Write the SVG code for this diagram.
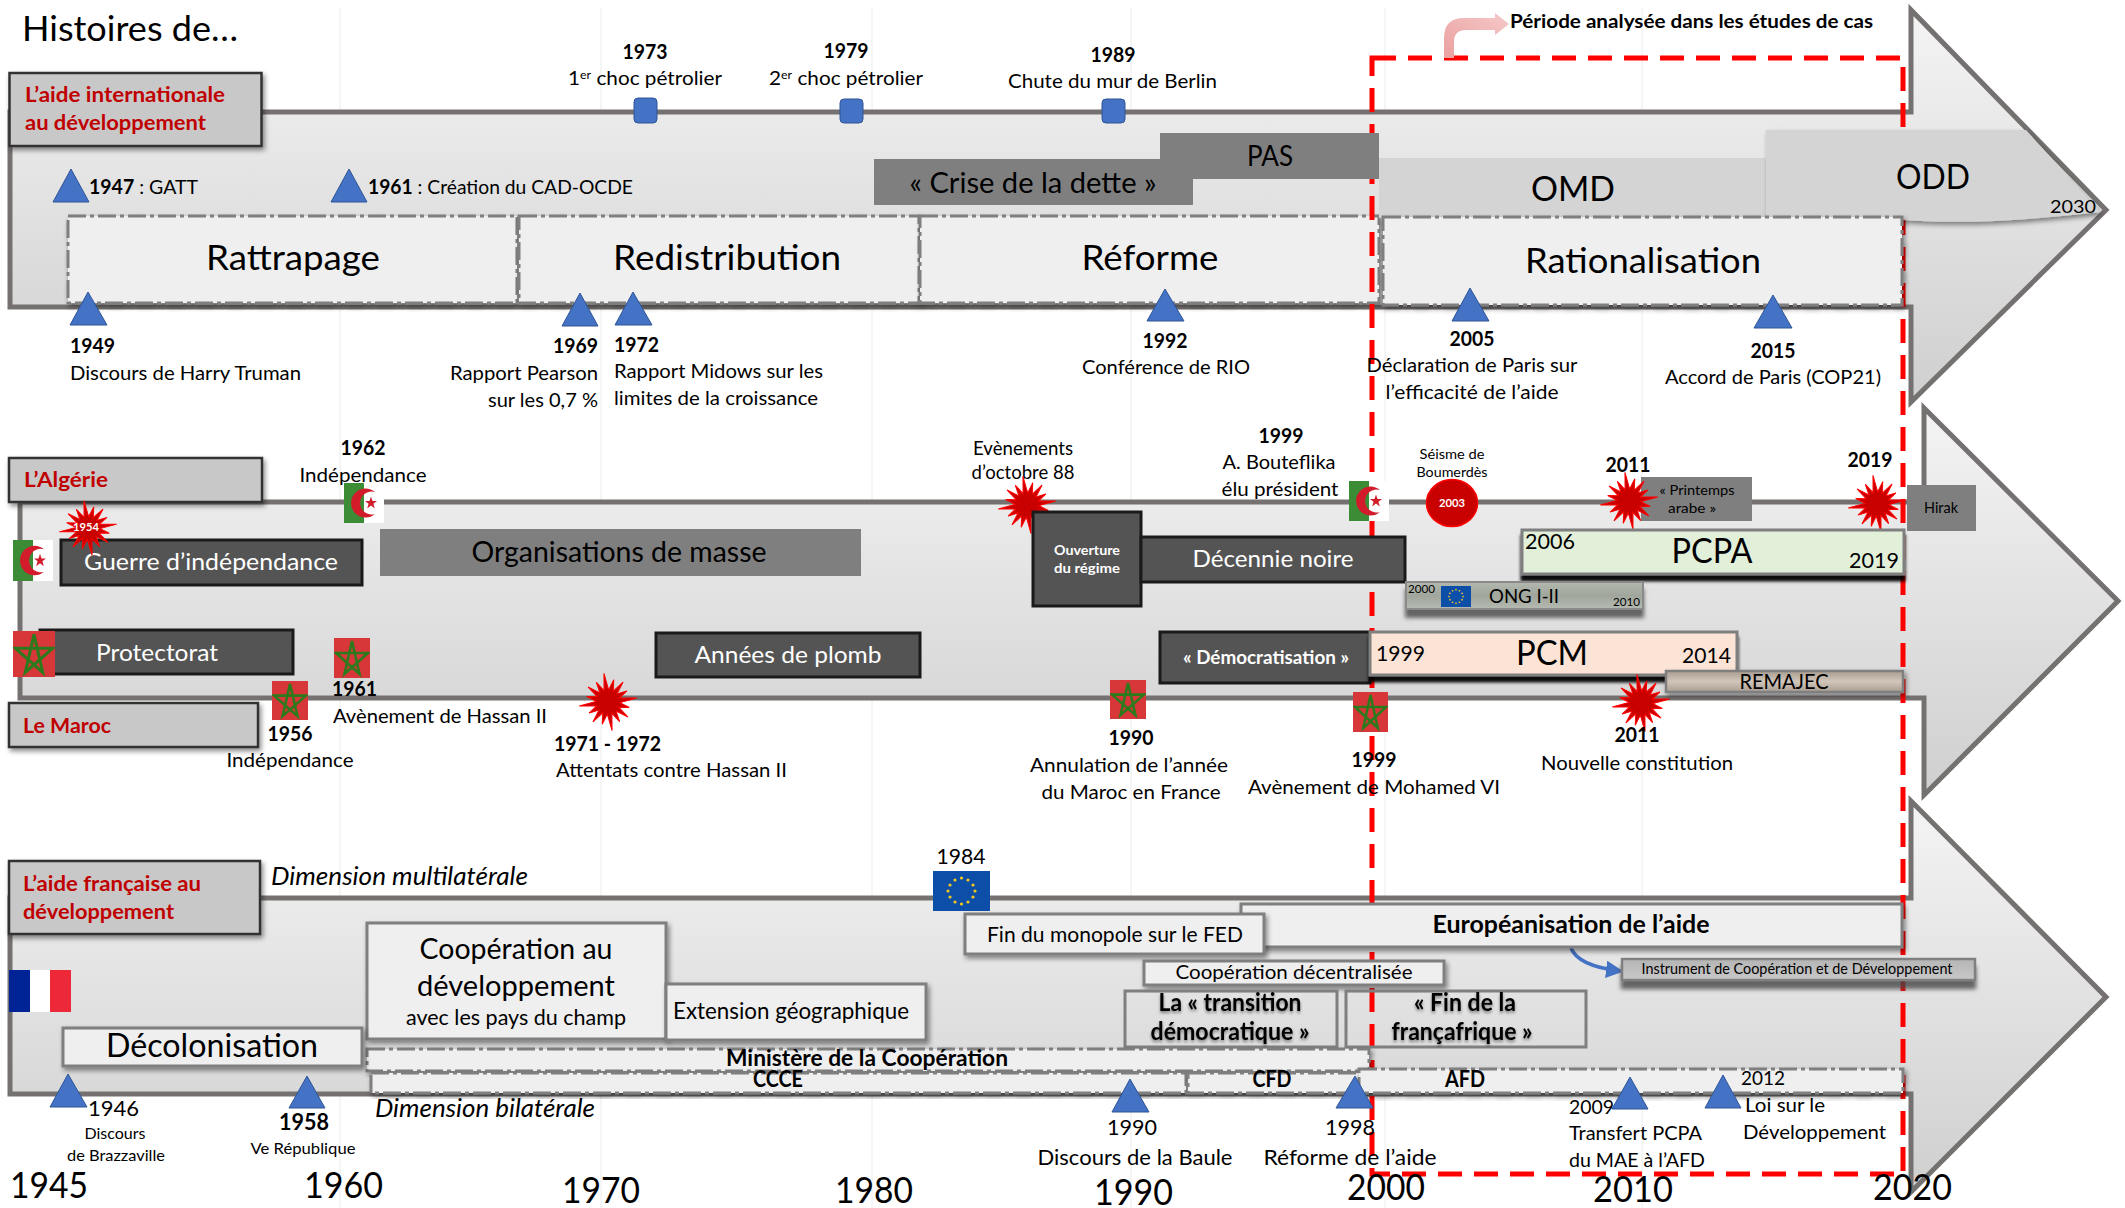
<svg xmlns="http://www.w3.org/2000/svg" width="2125" height="1208" viewBox="0 0 2125 1208">
<style>
text{font-family:Lato,"Open Sans","Liberation Sans",sans-serif;fill:#000;font-size:20px}
.m{text-anchor:middle}.e{text-anchor:end}.b{font-weight:700}.i{font-style:italic}
.w{fill:#fff}.r{fill:#c00000;font-weight:700;font-size:21px}
.arrow{stroke:#767171;stroke-width:5;stroke-linejoin:miter}
.lab{fill:#c8c8c8;stroke:#333;stroke-width:2.5;filter:url(#sh)}
.tri{fill:#4472c4;stroke:#2f5597;stroke-width:1}
.sq{fill:#4472c4;stroke:#2f5597;stroke-width:1}
.ph{fill:#efefef;stroke:#7f7f7f;stroke-width:3;stroke-dasharray:18 4 4 4;filter:url(#sh)}
.gr{fill:#7f7f7f}
.dk{fill:#545454;stroke:#1a1a1a;stroke-width:3}
.lt{fill:#efefef;stroke:#7f7f7f;stroke-width:3;filter:url(#sh)}
.burst{fill:#c80000;stroke:#f00;stroke-width:1}
.ts{filter:url(#tsh)}
</style>
<defs>
<linearGradient id="ag" x1="0" y1="0" x2="0" y2="1"><stop offset="0" stop-color="#f4f4f4"/><stop offset="1" stop-color="#cfcfcf"/></linearGradient>
<linearGradient id="pink" x1="0" y1="1" x2="1" y2="0"><stop offset="0" stop-color="#eaa0a0"/><stop offset="1" stop-color="#f6c8c8"/></linearGradient>
<linearGradient id="ong" x1="0" y1="0" x2="0" y2="1"><stop offset="0" stop-color="#b4b9b0"/><stop offset=".5" stop-color="#a0a69c"/><stop offset="1" stop-color="#b6bab2"/></linearGradient>
<linearGradient id="rem" x1="0" y1="0" x2="0" y2="1"><stop offset="0" stop-color="#a99d92"/><stop offset=".5" stop-color="#d2c5ba"/><stop offset="1" stop-color="#a99d92"/></linearGradient>
<linearGradient id="ins" x1="0" y1="0" x2="0" y2="1"><stop offset="0" stop-color="#b5b5b5"/><stop offset="1" stop-color="#c8c8c8"/></linearGradient>
<filter id="sh" x="-10%" y="-20%" width="120%" height="150%"><feDropShadow dx="2" dy="3" stdDeviation="2.5" flood-color="#000" flood-opacity=".45"/></filter>
<filter id="blk" x="-5%" y="-20%" width="110%" height="160%"><feDropShadow dx="0" dy="6" stdDeviation="1.5" flood-color="#000" flood-opacity=".95"/></filter>
<filter id="gsh" x="-5%" y="-30%" width="110%" height="200%"><feDropShadow dx="0" dy="8" stdDeviation="2" flood-color="#444" flood-opacity=".8"/></filter>
<filter id="tsh" x="-10%" y="-20%" width="120%" height="160%"><feDropShadow dx="0" dy="2" stdDeviation="1.5" flood-color="#000" flood-opacity=".45"/></filter>
<polygon id="burst" class="burst" transform="rotate(-8)" points="29,0 11.8,2.3 20.3,8.4 10,6.7 17.7,17.7 6.7,10 8.8,21.2 2.3,11.8 0,29 -2.3,11.8 -8.8,21.2 -6.7,10 -17.7,17.7 -10,6.7 -20.3,8.4 -11.8,2.3 -29,0 -11.8,-2.3 -20.3,-8.4 -10,-6.7 -17.7,-17.7 -6.7,-10 -8.8,-21.2 -2.3,-11.8 0,-29 2.3,-11.8 8.8,-21.2 6.7,-10 17.7,-17.7 10,-6.7 20.3,-8.4 11.8,-2.3"/>
<symbol id="dz" viewBox="0 0 40 40" preserveAspectRatio="none">
<rect width="40" height="40" fill="#fff"/><rect width="20" height="40" fill="#3c8c36"/>
<path d="M31,9A14.5,14.5 0 1 0 31,31A11.5,11.5 0 1 1 31,9Z" fill="#d21c2c"/>
<polygon points="27,13.5 28.5,18 33,18 29.4,20.8 30.8,25.5 27,22.6 23.2,25.5 24.6,20.8 21,18 25.5,18" fill="#d21c2c"/>
</symbol>
<symbol id="ma" viewBox="0 0 36 40" preserveAspectRatio="none">
<rect width="36" height="40" fill="#d8373a"/>
<polygon points="18,3 25.5,36 2,15 34,15 10.5,36" fill="none" stroke="#2d7a1c" stroke-width="2.6"/>
</symbol>
<symbol id="eu" viewBox="0 0 57 40" preserveAspectRatio="none">
<rect width="57" height="40" fill="#0d4fa8"/>
<g fill="#f2c81e"><circle cx="28.5" cy="7" r="1.6"/><circle cx="35" cy="9" r="1.6"/><circle cx="40" cy="14" r="1.6"/><circle cx="42" cy="20" r="1.6"/><circle cx="40" cy="26" r="1.6"/><circle cx="35" cy="31" r="1.6"/><circle cx="28.5" cy="33" r="1.6"/><circle cx="22" cy="31" r="1.6"/><circle cx="17" cy="26" r="1.6"/><circle cx="15" cy="20" r="1.6"/><circle cx="17" cy="14" r="1.6"/><circle cx="22" cy="9" r="1.6"/></g>
</symbol>
<marker id="ah" viewBox="0 0 10 10" refX="8" refY="5" markerWidth="5" markerHeight="5" orient="auto"><path d="M0,0L10,5L0,10Z" fill="#4472c4"/></marker>
</defs>
<rect width="2125" height="1208" fill="#fff"/>
<g id="grid" stroke="#ececec" stroke-width="1"><path d="M340,8V1208M601,8V1208M872,8V1208M1131,8V1208M1385,8V1208M1642,8V1208"/></g>

<g id="arrow-algerie"><path class="arrow" fill="url(#ag)" d="M20,502H1924V408L2118,601L1924,795V698H20Z"/></g>
<g id="arrow-aide-int"><path class="arrow" fill="url(#ag)" d="M10,112H1911V10L2106,210L1911,402V307H10Z"/></g>
<g id="arrow-france"><path class="arrow" fill="url(#ag)" d="M10,898H1911V801L2106,997L1911,1192V1094H10Z"/></g>

<g id="rattrapage"><rect class="ph" x="68" y="216" width="449" height="87"/><text class="m" x="293" y="270" style="font-size:35px" lengthAdjust="spacingAndGlyphs" textLength="174">Rattrapage</text></g>
<g id="redistribution"><rect class="ph" x="519" y="216" width="400" height="87"/><text class="m" x="727" y="270" style="font-size:35px" lengthAdjust="spacingAndGlyphs" textLength="228">Redistribution</text></g>
<g id="reforme"><rect class="ph" x="920" y="216" width="459" height="87"/><text class="m" x="1150" y="270" style="font-size:35px" lengthAdjust="spacingAndGlyphs" textLength="137">Réforme</text></g>

<g id="periode"><rect x="1372" y="58" width="531" height="1116" fill="none" stroke="#f00" stroke-width="5" stroke-dasharray="24 12"/></g>

<g id="omd"><rect x="1379" y="158" width="387" height="60" fill="#d4d4d4"/><text class="m" x="1573" y="201" style="font-size:35px" lengthAdjust="spacingAndGlyphs" textLength="84">OMD</text></g>
<g id="odd"><path d="M1766,130H2026L2100,212Q1980,226 1903,220H1766Z" fill="#d4d4d4" filter="url(#sh)"/><text class="m" x="1933" y="189" style="font-size:35px" lengthAdjust="spacingAndGlyphs" textLength="74">ODD</text><text x="2050" y="213" style="font-size:18px" lengthAdjust="spacingAndGlyphs" textLength="46">2030</text></g>
<g id="rationalisation"><rect class="ph" x="1383" y="217" width="519" height="88"/><text class="m" x="1643" y="273" style="font-size:35px" lengthAdjust="spacingAndGlyphs" textLength="236">Rationalisation</text></g>
<g id="crise"><rect class="gr" x="874" y="159" width="319" height="46"/><text class="m" x="1033" y="193" style="font-size:28px" lengthAdjust="spacingAndGlyphs" textLength="247">« Crise de la dette »</text></g>
<g id="pas"><rect class="gr" x="1160" y="133" width="219" height="46"/><text class="m" x="1270" y="166" style="font-size:28px" lengthAdjust="spacingAndGlyphs" textLength="46">PAS</text></g>

<g id="connectors">
<path d="M1444,58V38Q1444,18 1464,18H1495V13L1509,24L1495,35V30H1466Q1454,30 1454,42V58Z" fill="url(#pink)"/>
<path d="M1571,948Q1578,966 1620,971" fill="none" stroke="#4472c4" stroke-width="3.5" marker-end="url(#ah)"/>
</g>

<g id="title"><text x="22" y="41" style="font-size:35px" lengthAdjust="spacingAndGlyphs" textLength="216">Histoires de…</text></g>
<g id="periode-label"><text class="b" x="1510" y="28" style="font-size:19px" lengthAdjust="spacingAndGlyphs" textLength="363">Période analysée dans les études de cas</text></g>

<g id="label-aide-int"><rect class="lab" x="9.5" y="73" width="252" height="73"/><text class="r" x="25" y="102" lengthAdjust="spacingAndGlyphs" textLength="200">L’aide internationale</text><text class="r" x="25" y="130" lengthAdjust="spacingAndGlyphs" textLength="181">au développement</text></g>
<g id="label-algerie"><rect class="lab" x="9" y="458" width="253" height="44"/><text class="r" x="24" y="487" lengthAdjust="spacingAndGlyphs" textLength="84">L’Algérie</text></g>
<g id="label-maroc"><rect class="lab" x="9" y="703" width="249" height="44"/><text class="r" x="23" y="733" lengthAdjust="spacingAndGlyphs" textLength="88">Le Maroc</text></g>
<g id="label-france"><rect class="lab" x="9" y="861" width="251" height="73"/><text class="r" x="23" y="891" lengthAdjust="spacingAndGlyphs" textLength="178">L’aide française au</text><text class="r" x="23" y="919" lengthAdjust="spacingAndGlyphs" textLength="151">développement</text></g>

<g id="ev-1973"><rect class="sq" x="634" y="98" width="23" height="25" rx="4"/><text class="b m" x="645" y="59" lengthAdjust="spacingAndGlyphs" textLength="45">1973</text><text x="568" y="85" lengthAdjust="spacingAndGlyphs" textLength="154">1<tspan dy="-6" style="font-size:12px">er</tspan><tspan dy="6"> choc pétrolier</tspan></text></g>
<g id="ev-1979"><rect class="sq" x="840" y="99" width="23" height="24" rx="4"/><text class="b m" x="846" y="58" lengthAdjust="spacingAndGlyphs" textLength="45">1979</text><text x="769" y="85" lengthAdjust="spacingAndGlyphs" textLength="154">2<tspan dy="-6" style="font-size:12px">er</tspan><tspan dy="6"> choc pétrolier</tspan></text></g>
<g id="ev-1989"><rect class="sq" x="1102" y="99" width="23" height="24" rx="4"/><text class="b m" x="1113" y="62" lengthAdjust="spacingAndGlyphs" textLength="45">1989</text><text x="1008" y="88" lengthAdjust="spacingAndGlyphs" textLength="209">Chute du mur de Berlin</text></g>

<g id="ev-1947"><polygon class="tri" points="71,169 89,202 53,202"/><text x="89" y="194" lengthAdjust="spacingAndGlyphs" textLength="109"><tspan class="b">1947</tspan> : GATT</text></g>
<g id="ev-1961a"><polygon class="tri" points="349,169 367,202 331,202"/><text x="368" y="194" lengthAdjust="spacingAndGlyphs" textLength="265"><tspan class="b">1961</tspan> : Création du CAD-OCDE</text></g>
<g id="ev-1949"><polygon class="tri" points="88,292 107,325 70,325"/><text class="b" x="70" y="353" lengthAdjust="spacingAndGlyphs" textLength="45">1949</text><text x="70" y="380" lengthAdjust="spacingAndGlyphs" textLength="231">Discours de Harry Truman</text></g>
<g id="ev-1969"><polygon class="tri" points="580,293 598,326 562,326"/><text class="b e" x="598" y="353" lengthAdjust="spacingAndGlyphs" textLength="45">1969</text><text class="e" x="598" y="380" lengthAdjust="spacingAndGlyphs" textLength="148">Rapport Pearson</text><text class="e" x="598" y="407" lengthAdjust="spacingAndGlyphs" textLength="110">sur les 0,7 %</text></g>
<g id="ev-1972"><polygon class="tri" points="633,292 652,325 615,325"/><text class="b" x="614" y="352" lengthAdjust="spacingAndGlyphs" textLength="45">1972</text><text x="614" y="378" lengthAdjust="spacingAndGlyphs" textLength="209">Rapport Midows sur les</text><text x="614" y="405" lengthAdjust="spacingAndGlyphs" textLength="204">limites de la croissance</text></g>
<g id="ev-1992"><polygon class="tri" points="1165,289 1184,321 1147,321"/><text class="b m" x="1165" y="348" lengthAdjust="spacingAndGlyphs" textLength="45">1992</text><text class="m" x="1166" y="374" lengthAdjust="spacingAndGlyphs" textLength="168">Conférence de RIO</text></g>
<g id="ev-2005"><polygon class="tri" points="1470,288 1489,321 1452,321"/><text class="b m" x="1472" y="346" lengthAdjust="spacingAndGlyphs" textLength="45">2005</text><text class="m" x="1472" y="372" lengthAdjust="spacingAndGlyphs" textLength="211">Déclaration de Paris sur</text><text class="m" x="1472" y="399" lengthAdjust="spacingAndGlyphs" textLength="173">l’efficacité de l’aide</text></g>
<g id="ev-2015"><polygon class="tri" points="1773,295 1792,328 1754,328"/><text class="b m" x="1773" y="358" lengthAdjust="spacingAndGlyphs" textLength="45">2015</text><text class="m" x="1773" y="384" lengthAdjust="spacingAndGlyphs" textLength="216">Accord de Paris (COP21)</text></g>

<g id="ev-1962"><text class="b m" x="363" y="455" lengthAdjust="spacingAndGlyphs" textLength="45">1962</text><text class="m" x="363" y="482" lengthAdjust="spacingAndGlyphs" textLength="127">Indépendance</text><use href="#dz" x="344" y="483" width="40" height="40"/></g>
<g id="guerre"><use href="#dz" x="13" y="540" width="40" height="41"/><rect class="dk" x="61" y="540" width="301" height="45"/><text class="m w" x="211" y="570" style="font-size:24px" lengthAdjust="spacingAndGlyphs" textLength="254">Guerre d’indépendance</text></g>
<g id="ev-1954"><use href="#burst" transform="translate(88,528) scale(1,.95)"/><text class="b m w" x="86" y="531" style="font-size:11px" lengthAdjust="spacingAndGlyphs" textLength="26">1954</text></g>
<g id="organisations"><rect class="gr" x="380" y="529" width="481" height="47"/><text class="m" x="619" y="562" style="font-size:28px" lengthAdjust="spacingAndGlyphs" textLength="295">Organisations de masse</text></g>
<g id="protectorat"><rect class="dk" x="40" y="630" width="253" height="44"/><text class="m w" x="157" y="661" style="font-size:24px" lengthAdjust="spacingAndGlyphs" textLength="122">Protectorat</text><use href="#ma" x="13" y="631" width="42" height="46"/></g>
<g id="ev-1961"><use href="#ma" x="334" y="638" width="36" height="40"/><text class="b" x="332" y="696" lengthAdjust="spacingAndGlyphs" textLength="45">1961</text><text x="333" y="723" lengthAdjust="spacingAndGlyphs" textLength="214">Avènement de Hassan II</text></g>
<g id="ev-1956"><use href="#ma" x="272" y="681" width="36" height="39"/><text class="b m" x="290" y="741" lengthAdjust="spacingAndGlyphs" textLength="45">1956</text><text class="m" x="290" y="767" lengthAdjust="spacingAndGlyphs" textLength="127">Indépendance</text></g>
<g id="ev-1971"><use href="#burst" transform="translate(608,702)"/><text class="b" x="554" y="751" lengthAdjust="spacingAndGlyphs" textLength="107">1971 - 1972</text><text x="556" y="777" lengthAdjust="spacingAndGlyphs" textLength="231">Attentats contre Hassan II</text></g>
<g id="plomb"><rect class="dk" x="656" y="633" width="264" height="44"/><text class="m w" x="788" y="663" style="font-size:24px" lengthAdjust="spacingAndGlyphs" textLength="187">Années de plomb</text></g>
<g id="ev-88"><text class="m" x="1023" y="455" style="font-size:19px" lengthAdjust="spacingAndGlyphs" textLength="100">Evènements</text><text class="m" x="1023" y="479" style="font-size:19px" lengthAdjust="spacingAndGlyphs" textLength="103">d’octobre 88</text><use href="#burst" transform="translate(1027,505)"/></g>
<g id="ouverture"><rect class="dk" x="1033" y="512" width="108" height="94"/><text class="b m w" x="1087" y="555" style="font-size:14px" lengthAdjust="spacingAndGlyphs" textLength="66">Ouverture</text><text class="b m w" x="1087" y="573" style="font-size:14px" lengthAdjust="spacingAndGlyphs" textLength="66">du régime</text></g>
<g id="decennie"><rect class="dk" x="1141" y="537" width="264" height="45"/><text class="m w" x="1273" y="567" style="font-size:24px" lengthAdjust="spacingAndGlyphs" textLength="161">Décennie noire</text></g>
<g id="ev-1999a"><text class="b m" x="1281" y="443" lengthAdjust="spacingAndGlyphs" textLength="45">1999</text><text class="m" x="1279" y="469" lengthAdjust="spacingAndGlyphs" textLength="113">A. Bouteflika</text><text class="m" x="1280" y="496" lengthAdjust="spacingAndGlyphs" textLength="117">élu président</text><use href="#dz" x="1349" y="481" width="40" height="40"/></g>
<g id="ev-2003"><text class="m" x="1452" y="459" style="font-size:14px" lengthAdjust="spacingAndGlyphs" textLength="65">Séisme de</text><text class="m" x="1452" y="477" style="font-size:14px" lengthAdjust="spacingAndGlyphs" textLength="71">Boumerdès</text><ellipse cx="1452" cy="503" rx="25.5" ry="23.5" fill="#c80000" stroke="#f00" stroke-width="1.5"/><text class="b m w" x="1452" y="507" style="font-size:11px" lengthAdjust="spacingAndGlyphs" textLength="26">2003</text></g>
<g id="printemps"><rect class="gr" x="1641" y="477" width="111" height="44"/><text class="m" x="1697" y="495" style="font-size:14px" lengthAdjust="spacingAndGlyphs" textLength="75">« Printemps</text><text class="m" x="1692" y="513" style="font-size:14px" lengthAdjust="spacingAndGlyphs" textLength="48">arabe »</text></g>
<g id="ev-2011a"><text class="b m" x="1628" y="472" lengthAdjust="spacingAndGlyphs" textLength="45">2011</text><use href="#burst" transform="translate(1629,501)"/></g>
<g id="ev-2019"><text class="b m" x="1870" y="467" lengthAdjust="spacingAndGlyphs" textLength="45">2019</text><use href="#burst" transform="translate(1877,504)"/></g>
<g id="hirak"><rect class="gr" x="1907" y="485" width="69" height="46"/><text class="m" x="1941" y="513" style="font-size:15px" lengthAdjust="spacingAndGlyphs" textLength="34">Hirak</text></g>
<g id="pcpa"><rect x="1522" y="530" width="382" height="44" fill="#e2efd9" stroke="#7f7f7f" stroke-width="3" filter="url(#blk)"/><text class="m" x="1712" y="563" style="font-size:35px" lengthAdjust="spacingAndGlyphs" textLength="81">PCPA</text><text x="1525" y="549" style="font-size:22px" lengthAdjust="spacingAndGlyphs" textLength="50">2006</text><text class="e" x="1899" y="568" style="font-size:22px" lengthAdjust="spacingAndGlyphs" textLength="50">2019</text></g>
<g id="ong"><rect x="1406" y="582" width="237" height="27" fill="url(#ong)" stroke="#8a8a8a" stroke-width="2" filter="url(#gsh)"/><text x="1408" y="593" style="font-size:12px" lengthAdjust="spacingAndGlyphs" textLength="27">2000</text><use href="#eu" x="1441" y="586" width="30" height="21"/><text x="1489" y="603" style="font-size:19px" lengthAdjust="spacingAndGlyphs" textLength="70">ONG I-II</text><text class="e" x="1640" y="606" style="font-size:12px" lengthAdjust="spacingAndGlyphs" textLength="27">2010</text></g>
<g id="democratisation"><rect class="dk" x="1160" y="632" width="210" height="51"/><text class="b m w" x="1266" y="664" style="font-size:19px" lengthAdjust="spacingAndGlyphs" textLength="166">« Démocratisation »</text></g>
<g id="pcm"><rect x="1370" y="632" width="367" height="43" fill="#fbe4d5" stroke="#7f7f7f" stroke-width="3" filter="url(#blk)"/><text class="m" x="1552" y="665" style="font-size:35px" lengthAdjust="spacingAndGlyphs" textLength="72">PCM</text><text x="1376" y="661" style="font-size:22px" lengthAdjust="spacingAndGlyphs" textLength="49">1999</text><text class="e" x="1731" y="663" style="font-size:22px" lengthAdjust="spacingAndGlyphs" textLength="49">2014</text></g>
<g id="ev-2011b"><use href="#burst" transform="translate(1641,703)"/><text class="b m" x="1637" y="742" lengthAdjust="spacingAndGlyphs" textLength="45">2011</text><text class="m" x="1637" y="770" lengthAdjust="spacingAndGlyphs" textLength="192">Nouvelle constitution</text></g>
<g id="remajec"><rect x="1666" y="671" width="237" height="21" fill="url(#rem)" stroke="#7f7f7f" stroke-width="2.5" filter="url(#sh)"/><text class="m" x="1784" y="689" style="font-size:21px" lengthAdjust="spacingAndGlyphs" textLength="89">REMAJEC</text></g>
<g id="ev-1990a"><use href="#ma" x="1110" y="680" width="36" height="39"/><text class="b m" x="1131" y="745" lengthAdjust="spacingAndGlyphs" textLength="45">1990</text><text class="m" x="1129" y="772" lengthAdjust="spacingAndGlyphs" textLength="198">Annulation de l’année</text><text class="m" x="1131" y="799" lengthAdjust="spacingAndGlyphs" textLength="179">du Maroc en France</text></g>
<g id="ev-1999b"><use href="#ma" x="1353" y="692" width="35" height="40"/><text class="b m" x="1374" y="767" lengthAdjust="spacingAndGlyphs" textLength="45">1999</text><text class="m" x="1374" y="794" lengthAdjust="spacingAndGlyphs" textLength="252">Avènement de Mohamed VI</text></g>

<g id="dim-multi"><text class="i" x="271" y="885" style="font-size:25px" lengthAdjust="spacingAndGlyphs" textLength="257">Dimension multilatérale</text></g>
<g id="dim-bi"><text class="i" x="375" y="1117" style="font-size:25px" lengthAdjust="spacingAndGlyphs" textLength="220">Dimension bilatérale</text></g>
<g id="ev-1984"><text class="m" x="961" y="864" style="font-size:22px" lengthAdjust="spacingAndGlyphs" textLength="49">1984</text><use href="#eu" x="933" y="871" width="57" height="40"/></g>
<g id="europeanisation"><rect class="lt" x="1241" y="904" width="661" height="43"/><text class="b m" x="1571" y="933" style="font-size:24px" lengthAdjust="spacingAndGlyphs" textLength="277">Européanisation de l’aide</text></g>
<g id="fed"><rect class="lt" x="965" y="914" width="299" height="40"/><text class="m" x="1115" y="942" style="font-size:22px" lengthAdjust="spacingAndGlyphs" textLength="256">Fin du monopole sur le FED</text></g>
<g id="decentralisee"><rect class="lt" x="1144" y="961" width="300" height="24"/><text class="m" x="1294" y="979" style="font-size:19px" lengthAdjust="spacingAndGlyphs" textLength="237">Coopération décentralisée</text></g>
<g id="icd"><rect x="1622" y="959" width="353" height="21" fill="url(#ins)" stroke="#7f7f7f" stroke-width="2.5" filter="url(#gsh)"/><text class="m" x="1797" y="974" style="font-size:15px" lengthAdjust="spacingAndGlyphs" textLength="311">Instrument de Coopération et de Développement</text></g>
<g id="transition"><rect x="1125" y="991" width="212" height="56" fill="none" stroke="#7f7f7f" stroke-width="3"/><text class="b m ts" x="1230" y="1011" style="font-size:24px" lengthAdjust="spacingAndGlyphs" textLength="143">La « transition</text><text class="b m ts" x="1230" y="1040" style="font-size:24px" lengthAdjust="spacingAndGlyphs" textLength="159">démocratique »</text></g>
<g id="francafrique"><rect x="1346" y="991" width="240" height="56" fill="none" stroke="#7f7f7f" stroke-width="3"/><text class="b m ts" x="1465" y="1011" style="font-size:24px" lengthAdjust="spacingAndGlyphs" textLength="102">« Fin de la</text><text class="b m ts" x="1462" y="1040" style="font-size:24px" lengthAdjust="spacingAndGlyphs" textLength="141">françafrique »</text></g>
<g id="ministere"><rect class="ph" x="367" y="1049" width="1002" height="22"/><text class="b m" x="867" y="1066" style="font-size:23px" lengthAdjust="spacingAndGlyphs" textLength="282">Ministère de la Coopération</text></g>
<g id="ccce"><rect class="ph" x="371" y="1073" width="815" height="20"/><text class="b m" x="778" y="1087" style="font-size:22px" lengthAdjust="spacingAndGlyphs" textLength="50">CCCE</text></g>
<g id="cfd"><rect class="ph" x="1188" y="1073" width="178" height="20"/><text class="b m" x="1272" y="1087" style="font-size:22px" lengthAdjust="spacingAndGlyphs" textLength="39">CFD</text></g>
<g id="afd"><rect class="ph" x="1359" y="1069" width="544" height="24"/><text class="b m" x="1465" y="1087" style="font-size:22px" lengthAdjust="spacingAndGlyphs" textLength="40">AFD</text></g>
<g id="cooperation"><rect class="lt" x="367" y="923" width="299" height="116"/><text class="m" x="516" y="959" style="font-size:29px" lengthAdjust="spacingAndGlyphs" textLength="193">Coopération au</text><text class="m" x="516" y="996" style="font-size:29px" lengthAdjust="spacingAndGlyphs" textLength="198">développement</text><text class="m" x="516" y="1025" style="font-size:22px" lengthAdjust="spacingAndGlyphs" textLength="220">avec les pays du champ</text></g>
<g id="extension"><rect class="lt" x="666" y="984" width="260" height="56"/><text x="673" y="1019" style="font-size:24px" lengthAdjust="spacingAndGlyphs" textLength="236">Extension géographique</text></g>
<g id="decolonisation"><rect class="lt" x="63" y="1028" width="299" height="38"/><text class="m" x="212" y="1057" style="font-size:32px" lengthAdjust="spacingAndGlyphs" textLength="212">Décolonisation</text></g>
<g id="flag-fr"><rect x="9" y="970" width="21" height="42" fill="#002395"/><rect x="30" y="970" width="20" height="42" fill="#fff"/><rect x="50" y="970" width="21" height="42" fill="#ed2939"/></g>
<g id="ev-1946"><polygon class="tri" points="68,1074 87,1107 50,1107"/><text x="88" y="1116" style="font-size:22px" lengthAdjust="spacingAndGlyphs" textLength="51">1946</text><text class="m" x="115" y="1139" style="font-size:16px" lengthAdjust="spacingAndGlyphs" textLength="61">Discours</text><text class="m" x="116" y="1161" style="font-size:16px" lengthAdjust="spacingAndGlyphs" textLength="98">de Brazzaville</text></g>
<g id="ev-1958"><polygon class="tri" points="307,1076 325,1108 289,1108"/><text class="b m" x="304" y="1130" style="font-size:22px" lengthAdjust="spacingAndGlyphs" textLength="50">1958</text><text class="m" x="303" y="1154" style="font-size:16px" lengthAdjust="spacingAndGlyphs" textLength="105">Ve République</text></g>
<g id="ev-1990b"><polygon class="tri" points="1130,1079 1149,1112 1112,1112"/><text class="m" x="1132" y="1135" style="font-size:22px" lengthAdjust="spacingAndGlyphs" textLength="50">1990</text><text class="m" x="1135" y="1165" style="font-size:22px" lengthAdjust="spacingAndGlyphs" textLength="195">Discours de la Baule</text></g>
<g id="ev-1998"><polygon class="tri" points="1355,1076 1373,1108 1336,1108"/><text class="m" x="1350" y="1135" style="font-size:22px" lengthAdjust="spacingAndGlyphs" textLength="50">1998</text><text class="m" x="1350" y="1165" style="font-size:22px" lengthAdjust="spacingAndGlyphs" textLength="173">Réforme de l’aide</text></g>
<g id="ev-2009"><polygon class="tri" points="1630,1077 1648,1109 1612,1109"/><text x="1569" y="1114" lengthAdjust="spacingAndGlyphs" textLength="45">2009</text><text x="1569" y="1140" lengthAdjust="spacingAndGlyphs" textLength="133">Transfert PCPA</text><text x="1569" y="1167" lengthAdjust="spacingAndGlyphs" textLength="136">du MAE à l’AFD</text></g>
<g id="ev-2012"><polygon class="tri" points="1723,1075 1741,1108 1705,1108"/><text x="1741" y="1085" lengthAdjust="spacingAndGlyphs" textLength="44">2012</text><text x="1745" y="1112" lengthAdjust="spacingAndGlyphs" textLength="80">Loi sur le</text><text x="1743" y="1139" lengthAdjust="spacingAndGlyphs" textLength="143">Développement</text></g>

<g id="axis">
<text x="10" y="1198" style="font-size:37px" lengthAdjust="spacingAndGlyphs" textLength="78">1945</text>
<text x="304" y="1198" style="font-size:37px" lengthAdjust="spacingAndGlyphs" textLength="79">1960</text>
<text x="562" y="1203" style="font-size:37px" lengthAdjust="spacingAndGlyphs" textLength="78">1970</text>
<text x="835" y="1203" style="font-size:37px" lengthAdjust="spacingAndGlyphs" textLength="78">1980</text>
<text x="1094" y="1205" style="font-size:37px" lengthAdjust="spacingAndGlyphs" textLength="79">1990</text>
<text x="1347" y="1200" style="font-size:37px" lengthAdjust="spacingAndGlyphs" textLength="78">2000</text>
<text x="1593" y="1202" style="font-size:37px" lengthAdjust="spacingAndGlyphs" textLength="80">2010</text>
<text x="1873" y="1200" style="font-size:37px" lengthAdjust="spacingAndGlyphs" textLength="79">2020</text>
</g>
</svg>
